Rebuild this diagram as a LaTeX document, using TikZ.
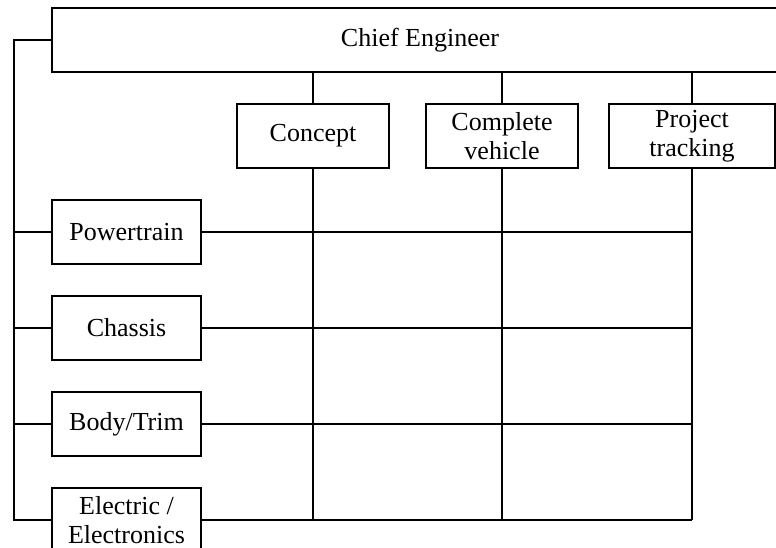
\documentclass[tikz,border=0pt]{standalone}
\usepackage{fontspec}
\setmainfont{Liberation Serif}
\begin{document}
\begin{tikzpicture}[x=1pt,y=-1pt,line width=1.8pt,
  lbl/.style={font=\fontsize{26}{29}\selectfont},
  box/.style={draw,lbl,line width=1.8pt,minimum height=64pt,inner sep=0pt,align=center}]
\useasboundingbox (0,0) rectangle (776,548);
\clip (0,0) rectangle (776,548);
% boxes
\node[box,minimum width=736pt] (chief) at (420,40) {Chief Engineer};
\node[box,minimum width=152pt] (concept) at (313,136) {Concept};
\node[box,minimum width=152pt] (complete) at (502,136) {Complete\\vehicle};
\node[box,minimum width=166pt] (project) at (692,136) {Project\\tracking};
\node[box,minimum width=149pt] (pt) at (126.5,232) {Powertrain};
\node[box,minimum width=149pt] (ch) at (126.5,328) {Chassis};
\node[box,minimum width=149pt] (bt) at (126.5,424) {Body/Trim};
\node[box,minimum width=149pt] (el) at (126.5,520) {Electric /\\Electronics};
\coordinate (busTop) at (14,40);
\coordinate (busBot) at (14,520);
% left bus
\draw (chief.west) -- (busTop) -- (busBot) -- (el.west);
\foreach \n in {pt,ch,bt} \draw (\n.west) -- (\n.west -| busTop);
% top links
\foreach \n in {concept,complete,project} \draw (\n.north) -- (\n.north |- chief.south);
% verticals
\foreach \n in {concept,complete,project} \draw (\n.south) -- (\n.south |- el.east);
% horizontals
\foreach \n in {pt,ch,bt,el} \draw (\n.east) -- (\n.east -| project.south);
\end{tikzpicture}
\end{document}
